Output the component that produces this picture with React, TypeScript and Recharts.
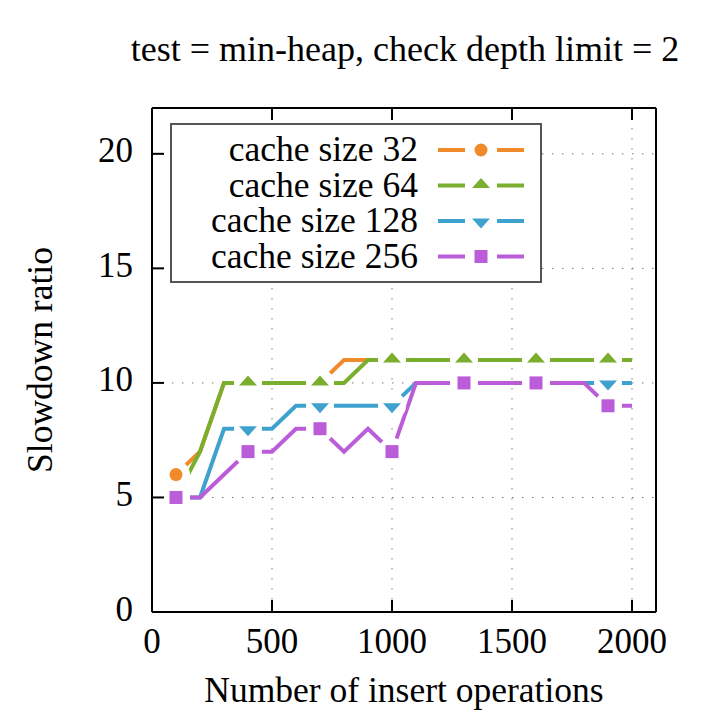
import { CartesianGrid, Legend, Line, LineChart, XAxis, YAxis } from "recharts";

const insertOps = [100, 200, 300, 400, 500, 600, 700, 800, 900, 1000, 1100, 1200, 1300, 1400, 1500, 1600, 1700, 1800, 1900, 2000];
const cache32 = [6, 7, 10, 10, 10, 10, 10, 11, 11, 11, 11, 11, 11, 11, 11, 11, 11, 11, 11, 11];
const cache64 = [5, 7, 10, 10, 10, 10, 10, 10, 11, 11, 11, 11, 11, 11, 11, 11, 11, 11, 11, 11];
const cache128 = [5, 5, 8, 8, 8, 9, 9, 9, 9, 9, 10, 10, 10, 10, 10, 10, 10, 10, 10, 10];
const cache256 = [5, 5, 6, 7, 7, 8, 8, 7, 8, 7, 10, 10, 10, 10, 10, 10, 10, 10, 9, 9];

const xTicks = [0, 500, 1000, 1500, 2000];
const yTicks = [0, 5, 10, 15, 20];

const FONT = '"Liberation Serif", "Times New Roman", serif';
const FS = 35;

const SERIES = [
  { key: "c32", name: "cache size 32", color: "#F08A2A", shape: "circle" },
  { key: "c64", name: "cache size 64", color: "#7AAE2E", shape: "up" },
  { key: "c128", name: "cache size 128", color: "#3FA2CE", shape: "down" },
  { key: "c256", name: "cache size 256", color: "#BB5CD8", shape: "square" },
];

const data = insertOps.map((x, i) => ({
  x,
  c32: cache32[i],
  c64: cache64[i],
  c128: cache128[i],
  c256: cache256[i],
}));

function Marker({ shape, color, cx, cy }: { shape: string; color: string; cx: number; cy: number }) {
  if (shape === "circle") return <circle cx={cx} cy={cy} r={6.5} fill={color} />;
  if (shape === "up")
    return <polygon points={`${cx - 9},${cy + 2.5} ${cx + 9},${cy + 2.5} ${cx},${cy - 7.5}`} fill={color} />;
  if (shape === "down")
    return <polygon points={`${cx - 9},${cy - 2.5} ${cx + 9},${cy - 2.5} ${cx},${cy + 7.5}`} fill={color} />;
  return <rect x={cx - 6.5} y={cy - 6.5} width={13} height={13} fill={color} />;
}

// gnuplot-style: a point every 3rd sample, with the line cut away around it
const dotFor = (s: (typeof SERIES)[number]) => (props: any) => {
  const { cx, cy, index } = props;
  if (index % 3 !== 0 || cx == null || cy == null) return <g key={`${s.key}-${index}`} />;
  return (
    <g key={`${s.key}-${index}`}>
      <circle cx={cx} cy={cy} r={14} fill="#fff" />
      <Marker shape={s.shape} color={s.color} cx={cx} cy={cy} />
    </g>
  );
};

const BottomTick = ({ x, y, payload }: any) => (
  <g>
    <line x1={x} y1={y} x2={x} y2={y - 12} stroke="#000" strokeWidth={2} />
    <text x={x} y={y + 41} textAnchor="middle" fontFamily={FONT} fontSize={FS} fill="#000">
      {payload.value}
    </text>
  </g>
);

const TopTick = ({ x, y }: any) => <line x1={x} y1={y} x2={x} y2={y + 12} stroke="#000" strokeWidth={2} />;

const LeftTick = ({ x, y, payload }: any) => (
  <g>
    <line x1={x} y1={y} x2={x + 12} y2={y} stroke="#000" strokeWidth={2} />
    <text x={x - 19} y={y + 8.5} textAnchor="end" fontFamily={FONT} fontSize={FS} fill="#000">
      {payload.value}
    </text>
  </g>
);

const RightTick = ({ x, y }: any) => <line x1={x} y1={y} x2={x - 12} y2={y} stroke="#000" strokeWidth={2} />;

function LegendBox() {
  const rowY = [27, 62.5, 98, 133.5];
  return (
    <div
      style={{
        width: 372,
        height: 160,
        boxSizing: "border-box",
        border: "2px solid #555",
        background: "#fff",
        position: "relative",
      }}
    >
      <svg width={372} height={160} style={{ position: "absolute", left: -2, top: -2 }}>
        {SERIES.map((s, i) => (
          <g key={s.key}>
            <text x={248} y={rowY[i] + 11} textAnchor="end" fontFamily={FONT} fontSize={35.5} fill="#000">
              {s.name}
            </text>
            <line x1={268} y1={rowY[i]} x2={295} y2={rowY[i]} stroke={s.color} strokeWidth={4} />
            <line x1={327} y1={rowY[i]} x2={354} y2={rowY[i]} stroke={s.color} strokeWidth={4} />
            <Marker shape={s.shape} color={s.color} cx={311} cy={rowY[i]} />
          </g>
        ))}
      </svg>
    </div>
  );
}

export default function App() {
  return (
    <div style={{ position: "absolute", left: 0, top: 0, width: 724, height: 724, background: "#fff" }}>
      <LineChart width={724} height={724} data={data} margin={{ top: 107, right: 67, bottom: 111, left: 151 }}>
        <CartesianGrid
          xAxisId="x"
          yAxisId="y"
          stroke="#777"
          strokeWidth={1}
          strokeDasharray="1.5 8.5"
        />
        <XAxis
          xAxisId="x"
          dataKey="x"
          type="number"
          domain={[0, 2100]}
          ticks={xTicks}
          height={1}
          tickSize={0}
          tickMargin={0}
          tickLine={false}
          axisLine={{ stroke: "#000", strokeWidth: 2 }}
          tick={<BottomTick />}
          interval={0}
        />
        <XAxis
          xAxisId="top"
          orientation="top"
          dataKey="x"
          type="number"
          domain={[0, 2100]}
          ticks={xTicks}
          height={1}
          tickSize={0}
          tickMargin={0}
          tickLine={false}
          axisLine={{ stroke: "#000", strokeWidth: 2 }}
          tick={<TopTick />}
          interval={0}
        />
        <YAxis
          yAxisId="y"
          type="number"
          domain={[0, 22]}
          ticks={yTicks}
          width={1}
          tickSize={0}
          tickMargin={0}
          tickLine={false}
          axisLine={{ stroke: "#000", strokeWidth: 2 }}
          tick={<LeftTick />}
          interval={0}
        />
        <YAxis
          yAxisId="right"
          orientation="right"
          type="number"
          domain={[0, 22]}
          ticks={yTicks}
          width={1}
          tickSize={0}
          tickMargin={0}
          tickLine={false}
          axisLine={{ stroke: "#000", strokeWidth: 2 }}
          tick={<RightTick />}
          interval={0}
        />
        {SERIES.map((s) => (
          <Line
            key={s.key}
            xAxisId="x"
            yAxisId="y"
            type="linear"
            dataKey={s.key}
            name={s.name}
            stroke={s.color}
            strokeWidth={4}
            dot={dotFor(s)}
            activeDot={false}
            isAnimationActive={false}
          />
        ))}
        <Legend
          layout="vertical"
          align="center"
          verticalAlign="middle"
          wrapperStyle={{ left: 170, top: 123, width: 372, height: 160 }}
          content={() => <LegendBox />}
        />
        <text x={405} y={61} textAnchor="middle" fontFamily={FONT} fontSize={36} fill="#000">
          test = min-heap, check depth limit = 2
        </text>
        <text x={404} y={702} textAnchor="middle" fontFamily={FONT} fontSize={35.5} fill="#000">
          Number of insert operations
        </text>
        <text
          x={52}
          y={360}
          textAnchor="middle"
          fontFamily={FONT}
          fontSize={35.5}
          fill="#000"
          transform="rotate(-90 52 360)"
        >
          Slowdown ratio
        </text>
      </LineChart>
    </div>
  );
}
